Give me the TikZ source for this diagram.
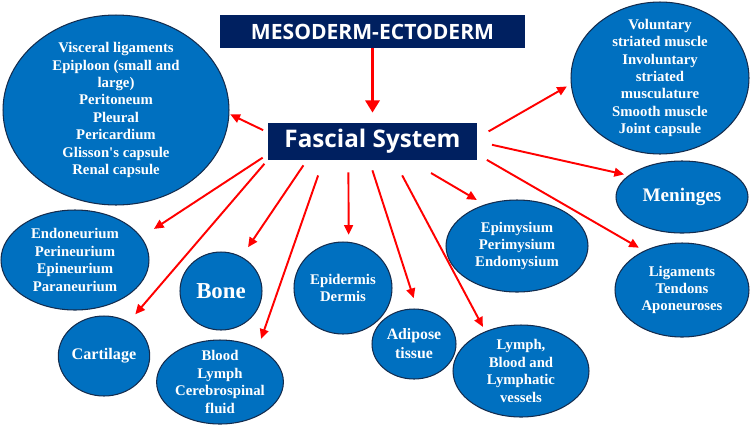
\documentclass[tikz,border=0pt]{standalone}
\usepackage{fontspec}
\usepackage{xcolor}
\usepackage{tikz}
\usetikzlibrary{arrows.meta,shapes.geometric}
\newfontfamily\blobfont{Liberation Serif}
\newfontfamily\headfont{Open Sans}
\definecolor{headnavy}{RGB}{0,32,96}
\definecolor{blobblue}{RGB}{0,112,192}
\definecolor{blobborder}{RGB}{20,44,78}
\definecolor{arrowred}{RGB}{255,0,0}

\begin{document}
\begin{tikzpicture}[x=0.02cm, y=-0.02cm,
  header/.style={fill=headnavy, text=white, inner sep=0pt},
  blob/.style={ellipse, draw=blobborder, line width=0.6pt, fill=blobblue, text=white, inner xsep=0pt, inner ysep=-10pt, align=center, font=\blobfont\bfseries\fontsize{8.4}{9.9}\selectfont},
  link/.style={-{Triangle[length=5.5pt,width=5pt]}, arrowred, line width=1.1pt},
  mainlink/.style={-{Triangle[length=7pt,width=8pt]}, arrowred, line width=2pt}
]
\useasboundingbox (0,0) rectangle (750,427);

\node[header, minimum width=6.1cm, minimum height=0.66cm, font=\headfont\bfseries\fontsize{12}{14}\selectfont] (meso) at (372.5,31.5) {MESODERM-ECTODERM};
\node[header, minimum width=4.18cm, minimum height=0.74cm, font=\headfont\bfseries\fontsize{13.8}{16}\selectfont] (fascia) at (372.5,141.5) {Fascial System};

\node[blob, minimum width=4.52cm, minimum height=3.8cm] (visc) at (116,110)
  {Visceral ligaments\\Epiploon (small and\\large)\\Peritoneum\\Pleural\\Pericardium\\Glisson's capsule\\Renal capsule};
\node[blob, minimum width=3.56cm, minimum height=3.04cm] (musc) at (660,78)
  {Voluntary\\striated muscle\\Involuntary\\striated\\musculature\\Smooth muscle\\Joint capsule};
\node[blob, minimum width=2.64cm, minimum height=1.44cm, font=\blobfont\bfseries\fontsize{10.9}{13}\selectfont] (men) at (682,197) {Meninges};
\node[blob, minimum width=2.68cm, minimum height=1.88cm] (lig) at (682,290) {Ligaments\\Tendons\\Aponeuroses};
\node[blob, minimum width=2.84cm, minimum height=1.84cm] (mys) at (517,246) {Epimysium\\Perimysium\\Endomysium};
\node[blob, minimum width=2.72cm, minimum height=1.84cm] (vess) at (521,371) {Lymph,\\Blood and\\Lymphatic\\vessels};
\node[blob, minimum width=1.68cm, minimum height=1.40cm, font=\blobfont\bfseries\fontsize{9}{10.8}\selectfont] (adip) at (414,344) {Adipose\\tissue};
\node[blob, minimum width=1.96cm, minimum height=1.84cm] (derm) at (343,288) {Epidermis\\Dermis};
\node[blob, minimum width=1.64cm, minimum height=1.56cm, font=\blobfont\bfseries\fontsize{13}{15}\selectfont] (bone) at (221,291) {Bone};
\node[blob, minimum width=2.36cm, minimum height=1.68cm] (fluid) at (220,382) {Blood\\Lymph\\Cerebrospinal\\fluid};
\node[blob, minimum width=1.64cm, minimum height=1.60cm, font=\blobfont\bfseries\fontsize{9.2}{11}\selectfont] (cart) at (104,356) {Cartilage};
\node[blob, minimum width=2.96cm, minimum height=2.00cm] (nerve) at (75,260) {Endoneurium\\Perineurium\\Epineurium\\Paraneurium};

\draw[mainlink, shorten >=0.2cm] (meso) -- (fascia);

\draw[link, shorten <=0.1cm, shorten >=0.02cm] (fascia.175.6) -- (visc.-2.5);
\draw[link, shorten <=0.12cm, shorten >=0.3cm] (fascia.187.4) -- (nerve.19.3);
\draw[link, shorten <=0.1cm, shorten >=0.2cm] (fascia.190.7) -- (cart.54.7);
\draw[link, shorten <=0.12cm, shorten >=0.23cm] (fascia.196.1) -- (bone.59.4);
\draw[link, shorten <=0.32cm, shorten >=0.19cm] (fascia.201.7) -- (fluid.42.9);
\draw[link, shorten <=0.24cm, shorten >=0.14cm] (fascia.218.2) -- (derm.83.5);
\draw[link, shorten <=0.21cm, shorten >=0.22cm] (fascia.260.8) -- (adip.85);
\draw[link, shorten <=0.34cm, shorten >=0.1cm] (fascia.319.6) -- (vess.132.2);
\draw[link, shorten <=0.5cm, shorten >=0.18cm] (fascia.333.9) -- (mys.128.4);
\draw[link, shorten <=0.26cm, shorten >=0.09cm] (fascia.2.5) -- (musc.184.3);
\draw[link, shorten <=0.3cm, shorten >=0.09cm] (fascia.0) -- (men.158);
\draw[link, shorten <=0.22cm, shorten >=0.12cm] (fascia.353.9) -- (lig.134.3);

\end{tikzpicture}
\end{document}
